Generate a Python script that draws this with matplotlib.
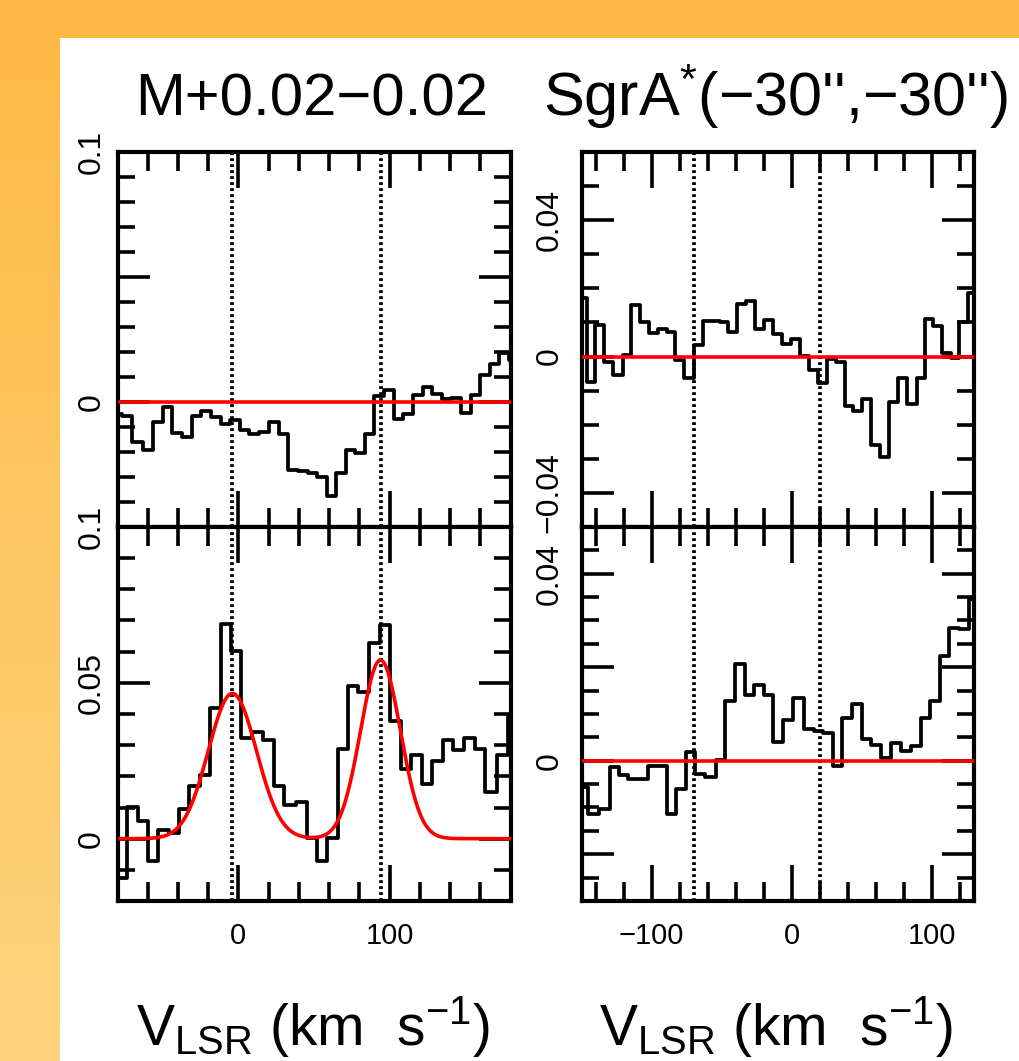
import numpy as np
import matplotlib
matplotlib.use('Agg')
import matplotlib.pyplot as plt
from matplotlib.patches import Rectangle
from matplotlib.ticker import MultipleLocator

plt.rcParams['font.family'] = ['Liberation Sans', 'DejaVu Sans']
plt.rcParams['mathtext.fontset'] = 'custom'
plt.rcParams['mathtext.rm'] = 'Liberation Sans'
plt.rcParams['mathtext.it'] = 'Liberation Sans:italic'
plt.rcParams['mathtext.bf'] = 'Liberation Sans:bold'

# ---------------- data ----------------
titles = ['M+0.02\u22120.02', "SgrA$^{*}$(\u221230'',\u221230'')"]

# top-left: M+0.02-0.02, upper spectrum
tl_v = [-80.3, -73.7, -66.8, -59.5, -52.9, -46.8, -40.5, -34.0, -27.6, -21.4, -15.0, -8.7, -2.4, 3.9,
        10.2, 16.8, 23.4, 29.8, 36.2, 42.8, 49.2, 55.3, 61.6, 67.9, 74.2, 80.6, 86.8, 92.8, 99.3,
        106.0, 112.4, 119.0, 125.3, 131.3, 137.7, 144.2, 150.6, 156.9, 163.1, 169.4, 175.5, 181.9]
tl_T = [-0.0047, -0.0057, -0.016, -0.019, -0.008, -0.002, -0.0124, -0.014, -0.0057, -0.0036, -0.006,
        -0.0089, -0.0073, -0.011, -0.0127, -0.012, -0.008, -0.0129, -0.027, -0.0277, -0.0283, -0.030,
        -0.0377, -0.0284, -0.019, -0.0204, -0.0127, 0.0023, 0.005, -0.0067, -0.0047, 0.0027, 0.006,
        0.0031, 0.0013, 0.0017, -0.0044, 0.0027, 0.0107, 0.0153, 0.0196, 0.017]

# bottom-left: M+0.02-0.02, lower spectrum
bl_v = [-77.7, -70.3, -63.1, -56.5, -49.7, -42.8, -35.9, -28.9, -22.3, -15.5, -8.1, -1.1, 5.1, 12.3,
        19.9, 26.7, 34.2, 41.9, 48.6, 55.2, 62.4, 69.3, 75.9, 82.8, 89.9, 96.9, 103.8, 110.9, 117.9,
        124.7, 131.6, 138.5, 145.5, 152.6, 159.8, 167.0, 174.7, 181.7]
bl_T = [-0.0125, 0.0103, 0.0056, -0.0072, 0.0028, 0.0019, 0.0094, 0.0169, 0.0203, 0.042, 0.069,
        0.0601, 0.0324, 0.0342, 0.0316, 0.0169, 0.0107, 0.0117, 0.0003, -0.0072, 0.0003, 0.0288,
        0.0489, 0.047, 0.0628, 0.0687, 0.0377, 0.0222, 0.027, 0.0174, 0.0249, 0.0316, 0.0286, 0.0324,
        0.0288, 0.0149, 0.0267, 0.0398]

# Gaussian fit components (bottom-left)
fit_amp = [0.0466, 0.0573]
fit_cen = [-4.0, 94.0]
fit_fwhm = [37.5, 31.0]

# top-right: SgrA*(-30",-30"), upper spectrum
tr_v = [-149.5, -143.2, -137.0, -130.7, -123.9, -117.5, -111.3, -104.6, -98.5, -92.3, -86.0, -79.9,
        -73.3, -66.7, -60.2, -54.0, -48.1, -42.1, -35.9, -29.3, -22.9, -16.4, -10.1, -3.6, 3.2, 9.1,
        15.4, 21.9, 28.2, 34.7, 41.1, 47.4, 53.7, 60.1, 66.6, 72.9, 79.5, 86.2, 92.5, 98.4, 104.4,
        110.7, 116.8, 123.1, 129.4]
tr_T = [0.0172, -0.0074, 0.0093, -0.0015, -0.0054, 0.0005, 0.0152, 0.010, 0.0069, 0.0081, 0.0071,
        -0.001, -0.0064, 0.0034, 0.0105, 0.0103, 0.010, 0.0071, 0.0155, 0.0164, 0.0081, 0.0108,
        0.0067, 0.0037, 0.0052, 0.0002, -0.0039, -0.0078, -0.0008, -0.0015, -0.0145, -0.0159,
        -0.0125, -0.026, -0.0294, -0.0132, -0.0064, -0.0139, -0.0064, 0.011, 0.009, 0.001, -0.0005,
        0.010, 0.0186]

# bottom-right: SgrA*(-30",-30"), lower spectrum
br_v = [-149.8, -141.2, -133.1, -126.4, -120.4, -113.7, -106.0, -98.8, -92.3, -85.7, -78.8, -72.0,
        -65.3, -57.8, -50.7, -43.9, -36.8, -30.0, -23.3, -16.4, -9.5, -2.4, 5.0, 12.3, 19.4, 26.1,
        32.7, 39.5, 46.6, 53.7, 60.5, 67.6, 74.7, 81.8, 89.0, 95.7, 102.2, 109.3, 116.2, 123.1, 130.0]
br_T = [-0.0057, -0.0114, -0.0103, -0.0013, -0.003, -0.0039, -0.0039, -0.0011, -0.0011, -0.0114,
        -0.006, 0.0018, -0.0028, -0.0034, 0.0001, 0.0128, 0.0208, 0.0141, 0.0162, 0.0141, 0.0041,
        0.0087, 0.0134, 0.0068, 0.0063, 0.006, -0.0011, 0.0091, 0.0121, 0.0046, 0.0034, 0.0006,
        0.0039, 0.0021, 0.0032, 0.0091, 0.0128, 0.0224, 0.0284, 0.0281, 0.0345]

left_marks = [-4.0, 94.0]
right_marks = [-70.0, 20.0]

left_xlim = (-80, 180)
right_xlim = (-150, 130)
left_xticks = [0, 100]
left_xticklabels = ['0', '100']
right_xticks = [-100, 0, 100]
right_xticklabels = ['\u2212100', '0', '100']

tl_ylim = (-0.05, 0.1); tl_yticks = [-0.05, 0, 0.05, 0.1]; tl_ylabels = ['', '0', '', '0.1']
bl_ylim = (-0.02, 0.1); bl_yticks = [0, 0.05, 0.1]; bl_ylabels = ['0', '0.05', '0.1']
tr_ylim = (-0.05, 0.06); tr_yticks = [-0.04, 0, 0.04]; tr_ylabels = ['\u22120.04', '0', '0.04']
br_ylim = (-0.03, 0.05); br_yticks = [-0.02, 0, 0.02, 0.04]; br_ylabels = ['', '0', '', '0.04']

# ---------------- figure ----------------
W, H = 1019, 1061
fig = plt.figure(figsize=(W / 100, H / 100), dpi=100)

bg = fig.add_axes([0, 0, 1, 1], zorder=-10)
bg.axis('off')
c_top = np.array([255, 185, 68]) / 255
c_bot = np.array([253, 212, 126]) / 255
grad = np.linspace(c_top, c_bot, 256)[:, None, :]
bg.imshow(grad, extent=(0, 60, H, 0), aspect='auto', interpolation='bilinear')
bg.add_patch(Rectangle((0, 0), W, 38, color=c_top, lw=0))
bg.add_patch(Rectangle((60, 38), W - 60, H - 38, color='white', lw=0))
bg.set_xlim(0, W)
bg.set_ylim(H, 0)

def fx(px):
    return px / W

def fy(py):
    return 1 - py / H

lx0, lx1 = 117.5, 510.5
rx0, rx1 = 581.5, 973.5
ty0, ty1 = 152.0, 527.0
by0, by1 = 527.0, 901.0

def make_ax(x0, x1, y0, y1):
    return fig.add_axes([fx(x0), fy(y1), fx(x1) - fx(x0), (y1 - y0) / H])

ax_tl = make_ax(lx0, lx1, ty0, ty1)
ax_bl = make_ax(lx0, lx1, by0, by1)
ax_tr = make_ax(rx0, rx1, ty0, ty1)
ax_br = make_ax(rx0, rx1, by0, by1)

LW_SP = 3.0
TW = 2.6
XFS = 21
YFS = 23

def style(ax, xlim, xticks, xlabels, ylim, yticks, ylabels, xminor, yminor, ypad, show_x):
    ax.set_xlim(*xlim)
    ax.set_xticks(xticks)
    ax.set_xticklabels(xlabels if show_x else [''] * len(xticks), fontsize=XFS)
    ax.xaxis.set_minor_locator(MultipleLocator(xminor))
    ax.set_yticks(yticks)
    ax.set_yticklabels(ylabels, rotation=90, va='center', fontsize=YFS)
    ax.yaxis.set_minor_locator(MultipleLocator(yminor))
    ax.set_ylim(*ylim)
    for s in ax.spines.values():
        s.set_linewidth(LW_SP)
    ax.tick_params(axis='x', which='major', direction='in', top=True, bottom=True,
                   length=26, width=TW, pad=15)
    ax.tick_params(axis='x', which='minor', direction='in', top=True, bottom=True,
                   length=14, width=TW)
    ax.tick_params(axis='y', which='major', direction='in', left=True, right=True,
                   length=23, width=TW, pad=ypad)
    ax.tick_params(axis='y', which='minor', direction='in', left=True, right=True,
                   length=12, width=TW)
    for lab in ax.get_xticklabels():
        lab.set_fontsize(XFS)
    for lab in ax.get_yticklabels():
        lab.set_fontsize(YFS)

style(ax_tl, left_xlim, left_xticks, left_xticklabels, tl_ylim, tl_yticks, tl_ylabels, 20, 0.01, 8, False)
style(ax_bl, left_xlim, left_xticks, left_xticklabels, bl_ylim, bl_yticks, bl_ylabels, 20, 0.01, 8, True)
style(ax_tr, right_xlim, right_xticks, right_xticklabels, tr_ylim, tr_yticks, tr_ylabels, 20, 0.01, 12, False)
style(ax_br, right_xlim, right_xticks, right_xticklabels, br_ylim, br_yticks, br_ylabels, 20, 0.005, 12, True)

STEP_LW = 2.7
RED_LW = 2.6
DOT = dict(color='black', lw=2.7, ls=(0, (0.75, 0.85)), zorder=2)

for ax, v, T, marks in [(ax_tl, tl_v, tl_T, left_marks), (ax_bl, bl_v, bl_T, left_marks),
                        (ax_tr, tr_v, tr_T, right_marks), (ax_br, br_v, br_T, right_marks)]:
    ax.step(v, T, where='mid', color='black', lw=STEP_LW, zorder=3)
    for m in marks:
        ax.axvline(m, **DOT)

ax_tl.axhline(0, color='#ff0000', lw=RED_LW, zorder=4)
ax_tr.axhline(0, color='#ff0000', lw=RED_LW, zorder=4)
ax_br.axhline(0, color='#ff0000', lw=RED_LW, zorder=4)

vfine = np.linspace(left_xlim[0], left_xlim[1], 800)
model = np.zeros_like(vfine)
for a, c, w in zip(fit_amp, fit_cen, fit_fwhm):
    sig = w / (2 * np.sqrt(2 * np.log(2)))
    model += a * np.exp(-0.5 * ((vfine - c) / sig) ** 2)
ax_bl.plot(vfine, model, color='#ff0000', lw=RED_LW, zorder=4)

# titles and axis labels
fig.text(fx(312), fy(116), titles[0], ha='center', va='baseline', fontsize=43)
fig.text(fx(775), fy(116), titles[1], ha='center', va='baseline', fontsize=44)
xlab = r'V$_{\mathrm{LSR}}$ (km  s$^{-1}$)'
fig.text(fx(312.5), fy(1045), xlab, ha='center', va='baseline', fontsize=41)
fig.text(fx(776), fy(1045), xlab, ha='center', va='baseline', fontsize=41)

fig.savefig('out.png', dpi=100)
